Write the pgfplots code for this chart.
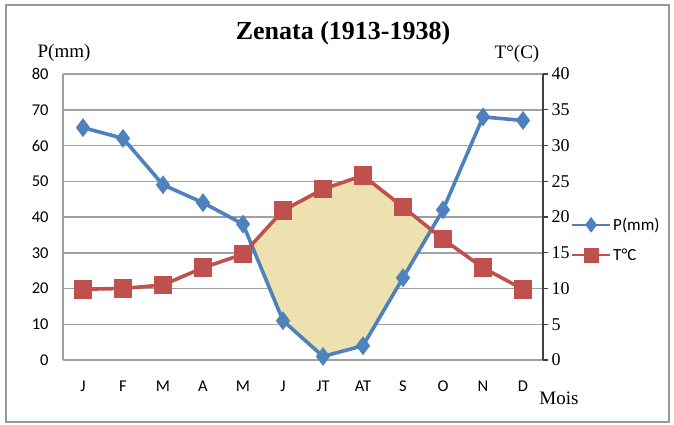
\documentclass[border=0pt]{standalone}
\usepackage{fontspec}
\setmainfont{Liberation Serif}
\newfontfamily\calib{Carlito}
\usepackage{pgfplots}
\usepackage{pgfplotstable}
\pgfplotsset{compat=1.18}

\definecolor{pblue}{RGB}{79,129,189}
\definecolor{tred}{RGB}{192,80,77}
\definecolor{dry}{RGB}{238,225,176}
\definecolor{gridg}{RGB}{160,160,160}

% m = month index, P = precipitation (mm), T = temperature (C)
\pgfplotstableread{
m P T
0 65 9.9
1 62 10
2 49 10.5
3 44 12.9
4 38 14.8
5 11 20.9
6 1 23.9
7 4 25.8
8 23 21.4
9 42 16.9
10 68 12.9
11 67 9.9
}\climat

\begin{document}
\begin{tikzpicture}
\path[use as bounding box] (-63bp,-65bp) rectangle (611bp,360bp);
\draw[line width=1.5bp, black!40] (-57bp,-62bp) rectangle (606bp,355bp);

\begin{axis}[scale only axis, width=480bp, height=286bp,
 xmin=-0.5, xmax=11.5, ymin=0, ymax=80,
 xtick={0,...,11}, xticklabels={J,F,M,A,M,J,JT,AT,S,O,N,D},
 ytick={0,10,...,80},
 ymajorgrids, major grid style={gridg, line width=1.5bp},
 axis y line*=left, axis x line*=bottom,
 axis line style={gridg, line width=1.5bp},
 major tick length=0pt,
 tick label style={font=\calib\fontsize{16.5bp}{19bp}\selectfont},
 /pgf/number format/assume math mode=true,
 xticklabel style={yshift=-17bp},
 yticklabel style={xshift=-11bp}]
% dry period (P < 2T): polygon between the curves, crossings near 4.21 and 8.71
\addplot[fill=dry, draw=none, forget plot] coordinates {
 (4.214,32.2) (5,41.8) (6,47.8) (7,51.6) (8,42.8) (8.707,36.4)
 (8,23) (7,4) (6,1) (5,11)} -- cycle;
\addplot[pblue, line width=3.6bp, mark=diamond*, mark size=6.5bp] table[x=m, y=P] {\climat};
\end{axis}

\begin{axis}[scale only axis, width=480bp, height=286bp,
 xmin=-0.5, xmax=11.5, ymin=0, ymax=40,
 ytick={0,5,...,40},
 axis y line*=right, axis x line=none,
 y axis line style={black!75, line width=1.2bp},
 ytick style={black!75, line width=1.2bp},
 tick align=outside, major tick length=5bp,
 yticklabel style={font=\fontsize{18bp}{21bp}\selectfont},
 /pgf/number format/assume math mode=true,
 legend style={at={(1.058,0.42)}, anchor=west, draw=none, fill=none,
  font=\calib\fontsize{17bp}{20bp}\selectfont, row sep=13bp, inner sep=0pt},
 legend cell align=left,
 legend image code/.code={\draw[#1, mark=none, line width=2.2bp] (0bp,0bp) -- (38bp,0bp);
  \draw[#1, only marks, mark options={scale=0.75}] plot coordinates {(19bp,0bp)};}]
\addlegendimage{pblue, line width=3.6bp, mark=diamond*, mark size=6.5bp}
\addlegendentry{P(mm)}
\addplot[tred, line width=3.6bp, mark=square*, mark size=7.5bp] table[x=m, y=T] {\climat};
\addlegendentry{T°C}
\end{axis}

\node[font=\bfseries\fontsize{26bp}{30bp}\selectfont] at (280bp,327bp) {Zenata (1913-1938)};
\node[font=\fontsize{19bp}{22bp}\selectfont] at (1bp,307bp) {P(mm)};
\node[font=\fontsize{19bp}{22bp}\selectfont] at (454bp,306bp) {T°(C)};
\node[font=\fontsize{19bp}{22bp}\selectfont] at (496bp,-38bp) {Mois};
\end{tikzpicture}
\end{document}
